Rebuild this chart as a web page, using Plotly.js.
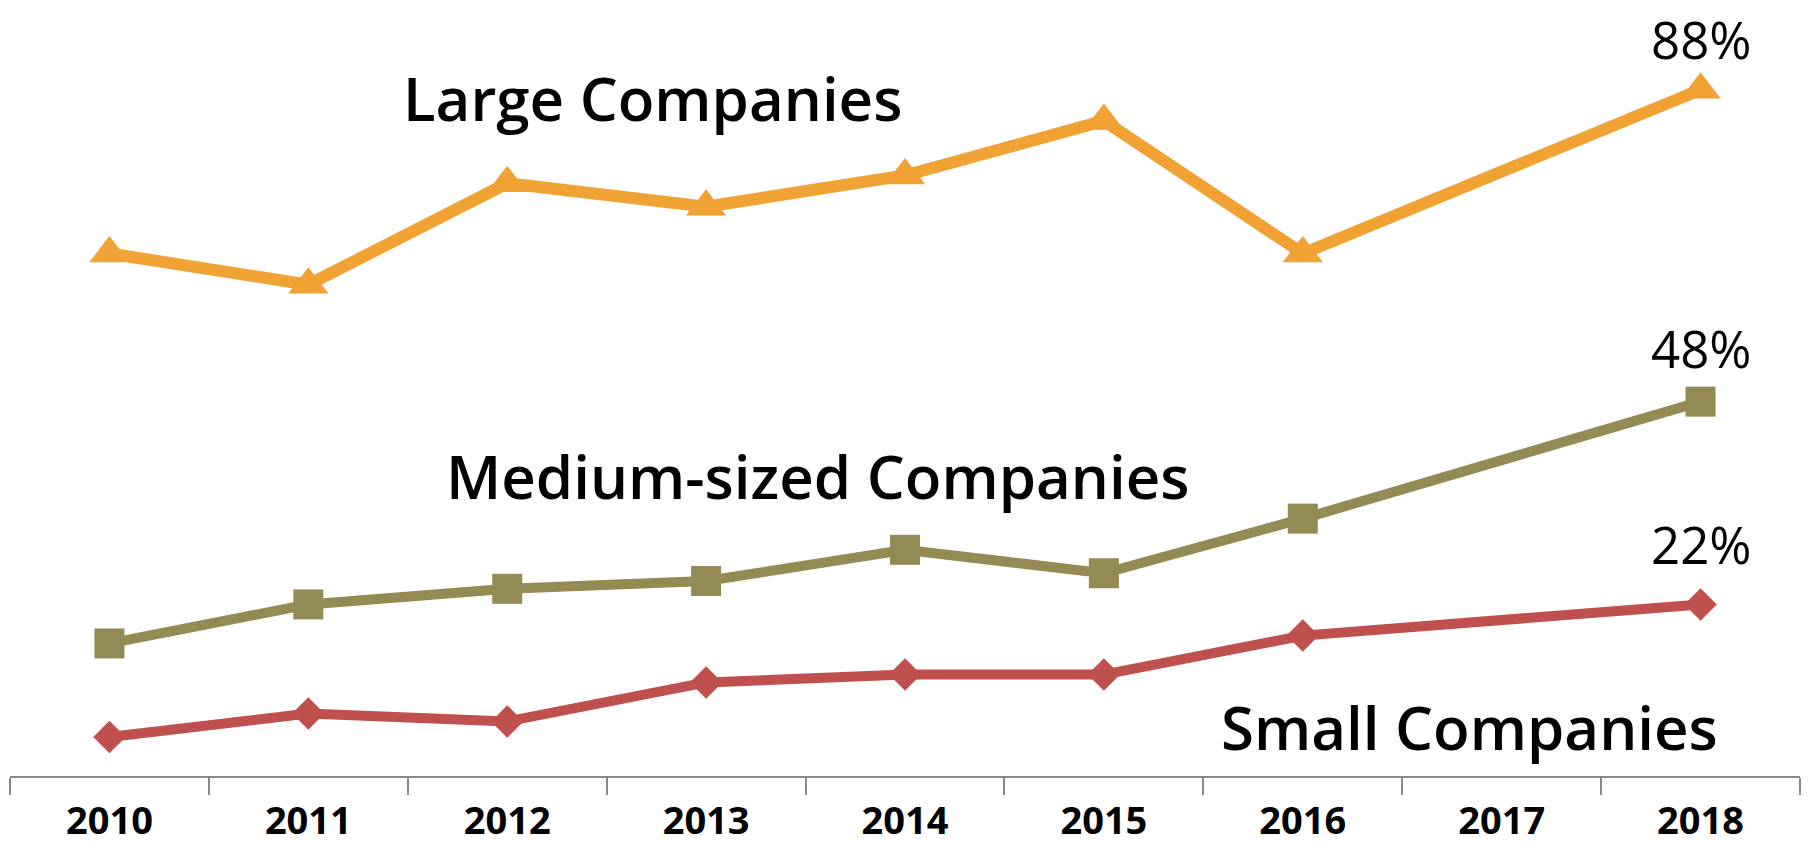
<!DOCTYPE html>
<html><head><meta charset="utf-8">
<script src="https://cdn.plot.ly/plotly-3.0.1.min.js"></script>
<style>html,body{margin:0;padding:0;background:#fff}#c{width:1812px;height:852px}</style>
</head><body><div id="c"></div>
<script>
const years = ['2010','2011','2012','2013','2014','2015','2016','2017','2018'];
const large  = [67, 63, 76, 73, 77, 84, 67, null, 88];
const medium = [17, 22, 24, 25, 29, 26, 33, null, 48];
const small  = [5, 8, 7, 12, 13, 13, 18, null, 22];
const seriesNames = ['Large Companies','Medium-sized Companies','Small Companies'];
const endLabels = ['88%','48%','22%'];

const cLarge = '#F0A334', cMed = '#948A54', cSmall = '#C0504D';

const traces = [
  {x: years, y: large, type:'scatter', mode:'lines+markers', connectgaps:true,
   line:{color:cLarge, width:12}, marker:{symbol:'triangle-up', size:35, color:cLarge}},
  {x: years, y: medium, type:'scatter', mode:'lines+markers', connectgaps:true,
   line:{color:cMed, width:10}, marker:{symbol:'square', size:30, color:cMed}},
  {x: years, y: small, type:'scatter', mode:'lines+markers', connectgaps:true,
   line:{color:cSmall, width:10}, marker:{symbol:'diamond', size:25, color:cSmall}}
];

const last = years.length - 1;
const nameFont = {family:'Open Sans, Noto Sans, sans-serif', size:60, color:'#000', weight:600};
const pctFont = {family:'Open Sans, Noto Sans, sans-serif', size:51, color:'#000'};
const annotations = [
  {xref:'x', yref:'y', x:2.73, y:86.9, text:seriesNames[0], showarrow:false, font:nameFont},
  {xref:'x', yref:'y', x:3.56, y:38.5, text:seriesNames[1], showarrow:false, font:nameFont},
  {xref:'x', yref:'y', x:6.84, y:6.3, text:seriesNames[2], showarrow:false, font:nameFont},
  {xref:'x', yref:'y', x:last, y:large[last], yshift:51, text:endLabels[0], showarrow:false, font:pctFont, borderpad:0},
  {xref:'x', yref:'y', x:last, y:medium[last], yshift:54, text:endLabels[1], showarrow:false, font:pctFont},
  {xref:'x', yref:'y', x:last, y:small[last], yshift:60, text:endLabels[2], showarrow:false, font:pctFont}
];

const layout = {
  width:1812, height:852,
  margin:{l:10, r:12, t:0, b:76},
  paper_bgcolor:'#fff', plot_bgcolor:'#fff',
  showlegend:false,
  xaxis:{type:'category', range:[-0.5,8.5], tickson:'boundaries', ticks:'outside', ticklen:17,
    tickcolor:'#888', tickwidth:2, showline:true, linecolor:'#888', linewidth:2,
    showgrid:false, zeroline:false, ticklabelstandoff:10,
    tickfont:{family:'Open Sans, Noto Sans, sans-serif', size:38, color:'#000', weight:700}},
  yaxis:{range:[0,99.5], visible:false, showgrid:false, zeroline:false},
  annotations: annotations
};
Plotly.newPlot('c', traces, layout, {displayModeBar:false, staticPlot:true});
</script></body></html>
